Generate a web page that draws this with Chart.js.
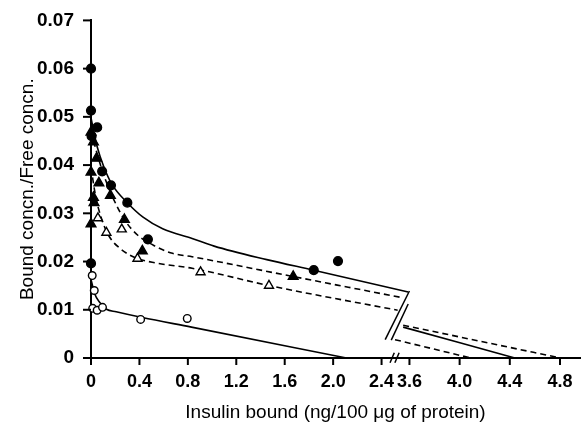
<!DOCTYPE html>
<html>
<head>
<meta charset="utf-8">
<script src="https://cdn.jsdelivr.net/npm/chart.js@4.4.1/dist/chart.umd.min.js"></script>
<style>
  html, body { margin: 0; padding: 0; background: #fff; }
  canvas { display: block; }
</style>
</head>
<body>
<canvas id="scatchardChart" width="587" height="424"></canvas>
<script>
// tick values (x axis is broken between 2.4 and 3.6)
const xTicksLeft = [0, 0.4, 0.8, 1.2, 1.6, 2.0, 2.4];
const xTicksRight = [3.6, 4.0, 4.4, 4.8];
const yTicks = [0, 0.01, 0.02, 0.03, 0.04, 0.05, 0.06, 0.07];

// measured points: [insulin bound, bound/free]
const filledCircles = [
    [0, 0.0600], [0, 0.0513], [0.051, 0.0478], [0.005, 0.0460], [0.092, 0.0387],
    [0.165, 0.0358], [0.30, 0.0322], [0.47, 0.0246], [1.84, 0.0182], [2.04, 0.0201],
    [0, 0.0196]
];
const filledTriangles = [
    [0, 0.0468], [0.02, 0.0448], [0.046, 0.0414], [0, 0.0385], [0.065, 0.0363],
    [0.16, 0.0337], [0.02, 0.0333], [0.025, 0.0322], [0.276, 0.0287], [0, 0.0278],
    [0.424, 0.0222], [1.67, 0.0169]
];
const openTriangles = [
    [0.057, 0.0290], [0.254, 0.0267], [0.127, 0.0260], [0.384, 0.0206],
    [0.905, 0.0178], [1.47, 0.0150]
];
const openCircles = [
    [0.01, 0.0171], [0.027, 0.0140], [0.014, 0.0103], [0.051, 0.0099],
    [0.095, 0.0105], [0.41, 0.0080], [0.795, 0.0082]
];

// fitted curves, left of the break
const curveTop = [
    [0, 0.0498], [0.051, 0.0438], [0.105, 0.0397], [0.173, 0.0360], [0.30, 0.0322],
    [0.43, 0.0292], [0.592, 0.0268], [0.835, 0.0248], [1.017, 0.0232], [1.452, 0.0204],
    [1.84, 0.0182], [2.62, 0.0137]
];
const curveUpperDash = [
    [0, 0.0470], [0.065, 0.0411], [0.119, 0.0370], [0.187, 0.0329], [0.281, 0.0285],
    [0.389, 0.0254], [0.538, 0.0231], [0.673, 0.0217], [0.835, 0.0210], [1.668, 0.0169],
    [2.573, 0.0125]
];
const curveLowerDash = [
    [0, 0.0395], [0.038, 0.0336], [0.079, 0.0295], [0.146, 0.0254], [0.241, 0.0227],
    [0.376, 0.0207], [0.538, 0.0197], [0.835, 0.0186], [1.474, 0.0150], [2.533, 0.0099]
];
const curveBottom = [
    [0, 0.0163], [0.032, 0.0132], [0.073, 0.0115], [0.127, 0.0101], [0.208, 0.0096],
    [0.424, 0.0084], [0.83, 0.0064], [2.11, 0]
];

// same lines continued right of the break
const rightTop = [[3.55, 0.0064], [4.44, 0]];
const rightUpperDash = [[3.55, 0.0068], [4.805, 0]];
const rightLowerDash = [[3.485, 0.0038], [4.09, 0]];

// scale ranges so that both parts of the broken axis fill the plot width
const X_MAX = 4.039;
const X2_MIN = 1.0617;
const X2_MAX = 4.9595;

const FONT = 'Liberation Sans';
const titleFont = { family: FONT, size: 19 };

const toXY = arr => arr.map(p => ({ x: p[0], y: p[1] }));

function pointSet(data, style, filled, radius) {
    return {
        type: 'scatter',
        data: toXY(data),
        pointStyle: style,
        pointRadius: radius,
        pointBackgroundColor: filled ? '#000' : '#fff',
        pointBorderColor: '#000',
        pointBorderWidth: 1.4,
        showLine: false,
        clip: false,
        order: 0
    };
}

function curveSet(data, dashed, axisId) {
    return {
        type: 'line',
        data: toXY(data),
        xAxisID: axisId || 'x',
        borderColor: '#000',
        borderWidth: 1.6,
        borderDash: dashed ? [6, 4] : [],
        pointRadius: 0,
        cubicInterpolationMode: 'monotone',
        fill: false,
        clip: false,
        order: 1
    };
}

// tick marks on both axes, plus the double slashes marking the x-axis break
const axisMarks = {
    id: 'axisMarks',
    afterDraw(chart) {
        const { ctx, scales: { x, y } } = chart;
        const line = (x1, y1, x2, y2) => {
            ctx.beginPath();
            ctx.moveTo(x1, y1);
            ctx.lineTo(x2, y2);
            ctx.stroke();
        };
        const seg = (v1, w1, v2, w2) =>
            line(x.getPixelForValue(v1), y.getPixelForValue(w1), x.getPixelForValue(v2), y.getPixelForValue(w2));

        ctx.save();
        ctx.strokeStyle = '#000';
        ctx.lineWidth = 2;
        x.ticks.forEach((t, i) => {
            const px = x.getPixelForTick(i);
            line(px, x.top, px, x.top + 7);
        });
        y.ticks.forEach((t, i) => {
            const py = y.getPixelForTick(i);
            line(y.right - 8, py, y.right, py);
        });

        ctx.lineWidth = 1.5;
        seg(2.63, 0.0139, 2.43, 0.0038);
        seg(2.62, 0.0112, 2.48, 0.0037);
        seg(2.47, -0.0010, 2.505, 0.0011);
        seg(2.51, -0.0010, 2.545, 0.0011);
        ctx.restore();
    }
};

const ctx = document.getElementById('scatchardChart').getContext('2d');
new Chart(ctx, {
    type: 'scatter',
    data: {
        datasets: [
            pointSet(filledCircles, 'circle', true, 4.4),
            pointSet(filledTriangles, 'triangle', true, 5.6),
            pointSet(openTriangles, 'triangle', false, 5.2),
            pointSet(openCircles, 'circle', false, 3.8),
            curveSet(curveTop, false),
            curveSet(curveUpperDash, true),
            curveSet(curveLowerDash, true),
            curveSet(curveBottom, false),
            curveSet(rightTop, false, 'x2'),
            curveSet(rightUpperDash, true, 'x2'),
            curveSet(rightLowerDash, true, 'x2')
        ]
    },
    options: {
        responsive: false,
        animation: false,
        layout: { padding: { top: 15, right: 0, bottom: 0, left: 0 } },
        plugins: {
            legend: { display: false },
            tooltip: { enabled: false }
        },
        scales: {
            x: {
                type: 'linear',
                min: 0,
                max: X_MAX,
                afterBuildTicks: scale => {
                    // right-hand ticks are placed where the x2 scale puts them
                    const k = X_MAX / (X2_MAX - X2_MIN);
                    scale.ticks = xTicksLeft.map(v => ({ value: v }))
                        .concat(xTicksRight.map(v => ({ value: (v - X2_MIN) * k })));
                },
                afterFit: scale => { scale.height = 66; },
                border: { display: true, color: '#000', width: 2 },
                grid: { display: true, drawOnChartArea: false, drawTicks: true, tickLength: 7, color: '#000' },
                ticks: {
                    autoSkip: false,
                    maxRotation: 0,
                    minRotation: 0,
                    color: '#000',
                    font: { family: FONT, size: 18, weight: 'bold' },
                    padding: 6,
                    callback: (value, index) => {
                        const v = xTicksLeft.concat(xTicksRight)[index];
                        return v === 0 ? '0' : v.toFixed(1);
                    }
                },
                title: {
                    display: true,
                    text: 'Insulin bound (ng/100 μg of protein)',
                    color: '#000',
                    font: titleFont,
                    padding: { top: 2, bottom: 0 }
                }
            },
            x2: {
                type: 'linear',
                display: false,
                min: X2_MIN,
                max: X2_MAX
            },
            y: {
                type: 'linear',
                min: 0,
                max: 0.07,
                afterBuildTicks: scale => { scale.ticks = yTicks.map(v => ({ value: v })); },
                afterFit: scale => { scale.width = 91; },
                border: { display: true, color: '#000', width: 2 },
                grid: { display: true, drawOnChartArea: false, drawTicks: true, tickLength: 8, color: '#000' },
                ticks: {
                    color: '#000',
                    font: { family: FONT, size: 19, weight: 'bold' },
                    padding: 9,
                    callback: v => v === 0 ? '0' : v.toFixed(2)
                },
                title: {
                    display: true,
                    text: 'Bound concn./Free concn.',
                    color: '#000',
                    font: titleFont,
                    padding: { top: 16, bottom: 0 }
                }
            }
        }
    },
    plugins: [axisMarks]
});
</script>
</body>
</html>
